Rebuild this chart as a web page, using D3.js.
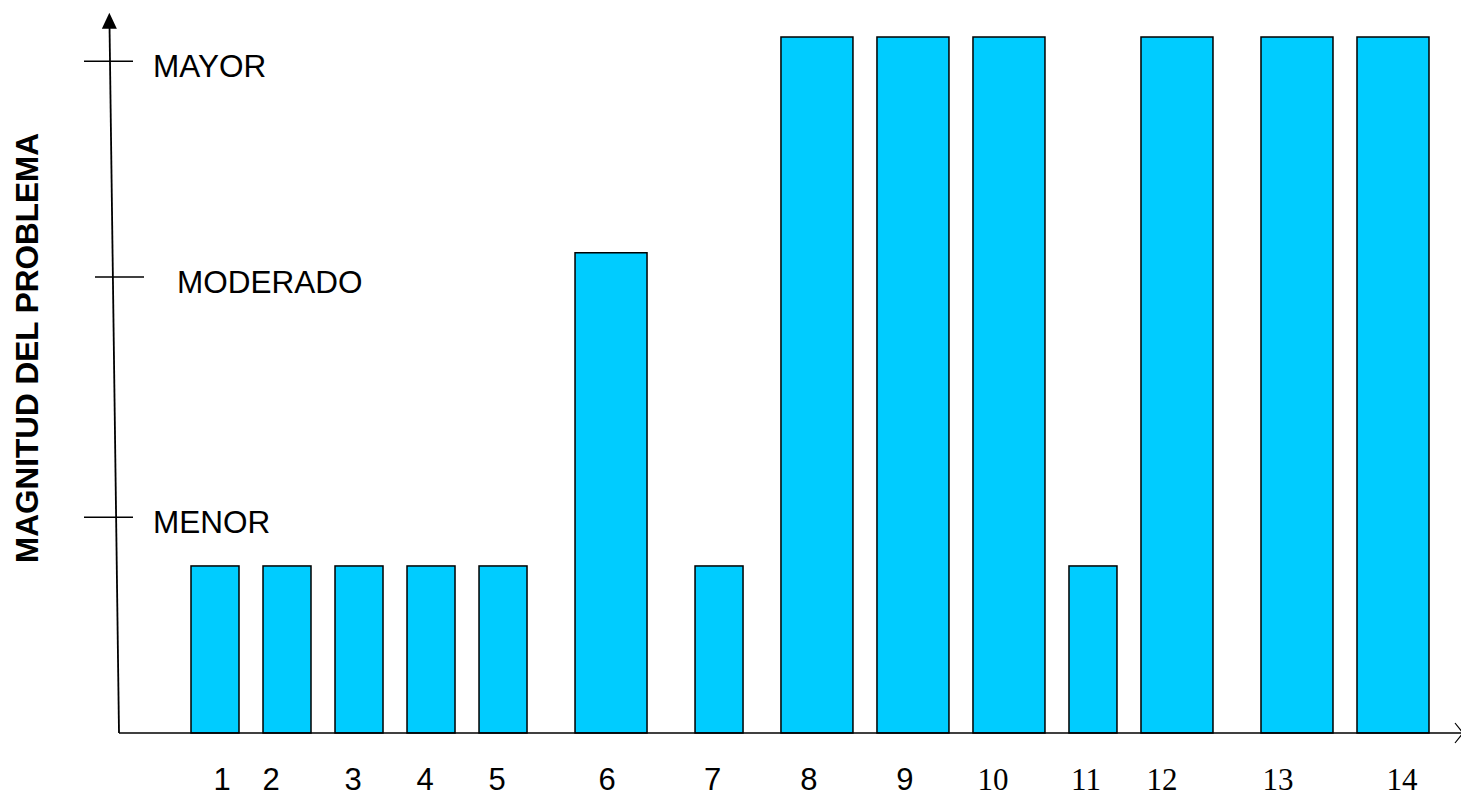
<!DOCTYPE html>
<html>
<head>
<meta charset="utf-8">
<script src="https://cdn.jsdelivr.net/npm/d3@7"></script>
<style>
  html, body { margin: 0; padding: 0; background: #fff; }
  svg { display: block; }
</style>
</head>
<body>
<svg id="chart" width="1461" height="798"></svg>
<script>
// Problem numbers along the horizontal axis
const problems = ["1","2","3","4","5","6","7","8","9","10","11","12","13","14"];
// Magnitude score of each problem (0–100)
const magnitude = [24, 24, 24, 24, 24, 69, 24, 100, 100, 100, 24, 100, 100, 100];
// Qualitative levels marked on the vertical axis
const levelLabels = ["MENOR", "MODERADO", "MAYOR"];
const levelValues = [31, 65.5, 96.5];
const yTitle = "MAGNITUD DEL PROBLEMA";

// ---- layout settings ----
const gapBefore = [0, 1, 1, 1, 1, 2, 2, 1.58, 1, 1, 1, 1, 2, 1]; // spacing (units) before each bar
const labelNudge = [7, -16, -6, -6, -6, -4, -6.5, -8, -8, -16, -7, -15, -19, 9];
const tickShift = [0, 11, 0];
const levelLabelShift = [0, 24, 0];
const barFill = "#00CCFF";
const ink = "#000";

const svg = d3.select("#chart");

// bar extents in spacing units; minor problems are drawn narrower
const bars = [];
let cursor = 0;
problems.forEach((p, i) => {
  cursor += gapBefore[i];
  const w = magnitude[i] < 50 ? 2 : 3;
  bars.push({ label: p, value: magnitude[i], u0: cursor, u1: cursor + w, nudge: labelNudge[i] });
  cursor += w;
});

const x = d3.scaleLinear().domain([0, cursor]).range([191, 1429]);
const y = d3.scaleLinear().domain([0, 100]).range([733, 37]);

// slightly leaning vertical axis
const axisBaseX = 119;
const lean = 0.0134;
const axisX = py => axisBaseX - (y(0) - py) * lean;

// bars
svg.append("g").selectAll("rect")
  .data(bars)
  .join("rect")
  .attr("x", d => x(d.u0))
  .attr("y", d => y(d.value))
  .attr("width", d => x(d.u1) - x(d.u0))
  .attr("height", d => y(0) - y(d.value))
  .attr("fill", barFill)
  .attr("stroke", ink)
  .attr("stroke-width", 1.5);

// horizontal axis with open arrow head
svg.append("line")
  .attr("x1", axisBaseX).attr("y1", y(0))
  .attr("x2", 1461).attr("y2", y(0))
  .attr("stroke", ink).attr("stroke-width", 1.5);
svg.append("path")
  .attr("d", `M1455,${y(0) - 10} L1463,${y(0)} L1455,${y(0) + 10}`)
  .attr("fill", "none").attr("stroke", ink).attr("stroke-width", 1.2);

// vertical axis with filled arrow head
const topY = y(103.5);
svg.append("line")
  .attr("x1", axisX(y(0))).attr("y1", y(0))
  .attr("x2", axisX(topY + 14)).attr("y2", topY + 14)
  .attr("stroke", ink).attr("stroke-width", 1.8);
svg.append("path")
  .attr("d", `M${axisX(topY)},${topY} L${axisX(topY) - 7.5},${topY + 16} L${axisX(topY) + 7.5},${topY + 16} Z`)
  .attr("fill", ink);

// level ticks and labels
const levels = levelLabels.map((l, i) => ({ label: l, value: levelValues[i], shift: tickShift[i], lshift: levelLabelShift[i] }));
svg.append("g").selectAll("line")
  .data(levels)
  .join("line")
  .attr("x1", d => 84 + d.shift)
  .attr("x2", d => 133 + d.shift)
  .attr("y1", d => y(d.value))
  .attr("y2", d => y(d.value))
  .attr("stroke", ink)
  .attr("stroke-width", 1.5);
svg.append("g").selectAll("text")
  .data(levels)
  .join("text")
  .attr("x", d => 153 + d.lshift)
  .attr("y", d => y(d.value) + 15.5)
  .attr("font-family", "'Liberation Sans', Arial, sans-serif")
  .attr("font-size", 31.5)
  .attr("fill", ink)
  .text(d => d.label);

// problem numbers (two-digit numbers are set in a serif face)
svg.append("g").selectAll("text")
  .data(bars)
  .join("text")
  .attr("x", d => (x(d.u0) + x(d.u1)) / 2 + d.nudge)
  .attr("y", 790)
  .attr("text-anchor", "middle")
  .attr("font-family", d => d.label.length > 1 ? "'Liberation Serif', 'Times New Roman', serif" : "'Liberation Sans', Arial, sans-serif")
  .attr("font-size", 31)
  .attr("fill", ink)
  .text(d => d.label);

// vertical axis title
svg.append("text")
  .attr("transform", "translate(38,348) rotate(-90)")
  .attr("text-anchor", "middle")
  .attr("font-family", "'Liberation Sans', Arial, sans-serif")
  .attr("font-weight", "bold")
  .attr("font-size", 31.5)
  .attr("fill", ink)
  .text(yTitle);
</script>
</body>
</html>
